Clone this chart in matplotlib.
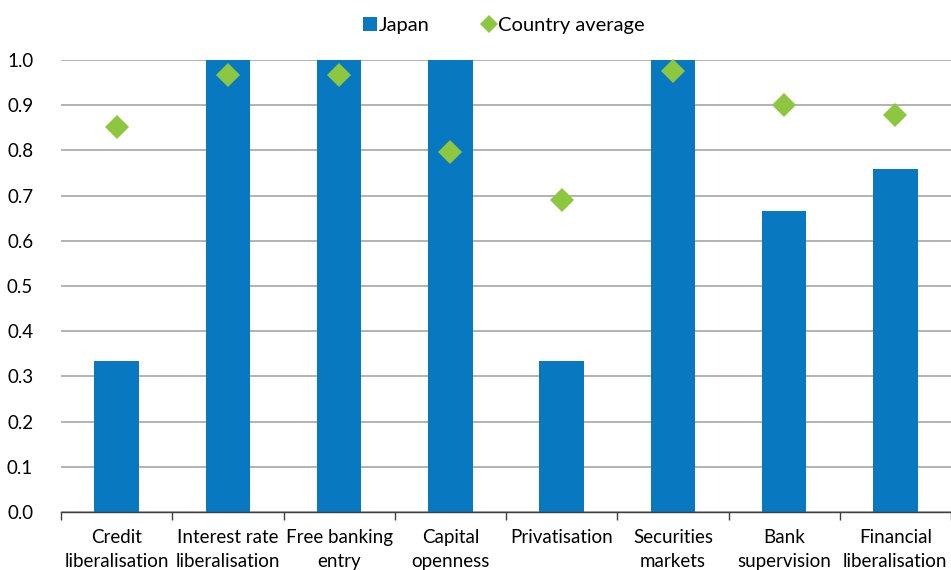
import matplotlib
matplotlib.use("Agg")
import matplotlib.pyplot as plt
from matplotlib.lines import Line2D
import numpy as np

categories = ["Credit\nliberalisation", "Interest rate\nliberalisation", "Free banking\nentry",
              "Capital\nopenness", "Privatisation", "Securities\nmarkets", "Bank\nsupervision",
              "Financial\nliberalisation"]
japan = [0.333, 1.0, 1.0, 1.0, 0.333, 1.0, 0.666, 0.759]
country_avg = [0.852, 0.967, 0.967, 0.796, 0.690, 0.976, 0.900, 0.878]
yticks = [0.0, 0.1, 0.2, 0.3, 0.4, 0.5, 0.6, 0.7, 0.8, 0.9, 1.0]

plt.rcParams['font.family'] = ['Lato', 'DejaVu Sans']
blue = '#0878C0'
green = '#8DC63F'

fig = plt.figure(figsize=(9.51, 5.70), dpi=100)
ax = fig.add_axes([61/951, 58/570, 890/951, 452/570])
x = np.arange(len(categories))
ax.bar(x, japan, width=0.4, color=blue, zorder=2)
ax.plot(x, country_avg, linestyle='none', marker='D', markersize=12, color=green,
        markeredgewidth=0, zorder=3, clip_on=False)

ax.set_xlim(-0.5, len(categories) - 0.5)
ax.set_ylim(0, 1.0)
ax.set_yticks(yticks)
ax.set_yticklabels([f"{v:.1f}" for v in yticks], fontsize=13.5)
ax.yaxis.grid(True, color='#A6A6A6', linewidth=1.2, zorder=0)
ax.set_axisbelow(True)
ax.tick_params(axis='y', length=0, pad=20)

ax.set_xticks(x)
ax.set_xticklabels(categories, fontsize=13.5, linespacing=1.55)
ax.tick_params(axis='x', which='major', length=0, pad=12)
ax.set_xticks(np.arange(-0.5, len(categories), 1.0), minor=True)
ax.tick_params(axis='x', which='minor', length=6, width=1, color='#404040', direction='out')

for s in ['top', 'right', 'left']:
    ax.spines[s].set_visible(False)
ax.spines['bottom'].set_color('#404040')
ax.spines['bottom'].set_linewidth(1)

handles = [
    Line2D([], [], linestyle='none', marker='s', markersize=10, color=blue, markeredgewidth=0),
    Line2D([], [], linestyle='none', marker='D', markersize=9, color=green, markeredgewidth=0),
]
fig.legend(handles, ['Japan', 'Country average'], loc='center', bbox_to_anchor=(0.530, 0.956),
           ncol=2, frameon=False, fontsize=14.5, handlelength=0.7, handletextpad=0.1,
           columnspacing=2.6)

fig.savefig('out.png', dpi=100)
